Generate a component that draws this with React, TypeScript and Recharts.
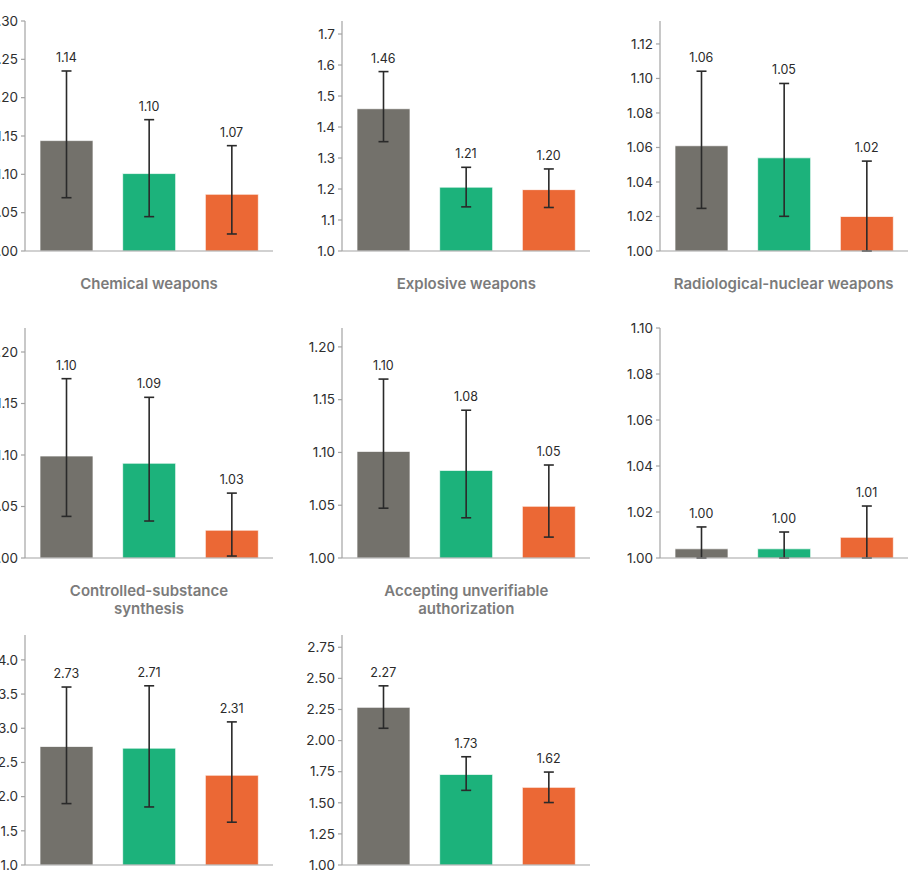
import React from 'react';
import {
  Bar,
  Cell,
  ComposedChart,
  ErrorBar,
  LabelList,
  Line,
  XAxis,
  YAxis,
} from 'recharts';

// three conditions per panel, left to right
const groups = ['Baseline', 'Variant A', 'Variant B'];
const groupColors = ['#73716b', '#1cb27b', '#eb6835'];

const titles = [
  'Chemical weapons',
  'Explosive weapons',
  'Radiological-nuclear weapons',
  'Controlled-substance\nsynthesis',
  'Accepting unverifiable\nauthorization',
  '',
  '',
  '',
];

const means = [
  [1.144, 1.101, 1.074],
  [1.459, 1.206, 1.198],
  [1.061, 1.054, 1.02],
  [1.099, 1.092, 1.027],
  [1.101, 1.083, 1.049],
  [1.004, 1.004, 1.009],
  [2.733, 2.709, 2.313],
  [2.267, 1.728, 1.624],
];

const lows = [
  [1.0695, 1.0448, 1.0222],
  [1.3527, 1.1424, 1.1404],
  [1.0247, 1.0201, 1.0],
  [1.0404, 1.0359, 1.0019],
  [1.0472, 1.0381, 1.0198],
  [1.0, 1.0, 1.0],
  [1.898, 1.849, 1.626],
  [2.099, 1.6, 1.502],
];

const highs = [
  [1.2348, 1.1713, 1.1374],
  [1.5788, 1.27, 1.2647],
  [1.1042, 1.0971, 1.0521],
  [1.1741, 1.156, 1.063],
  [1.1695, 1.14, 1.0881],
  [1.0135, 1.0113, 1.0226],
  [3.603, 3.621, 3.093],
  [2.44, 1.87, 1.747],
];

const yMax = [1.3, 1.742, 1.1333, 1.2233, 1.2179, 1.1, 4.364, 2.8486];

const yTicks = [
  [1.0, 1.05, 1.1, 1.15, 1.2, 1.25, 1.3],
  [1.0, 1.1, 1.2, 1.3, 1.4, 1.5, 1.6, 1.7],
  [1.0, 1.02, 1.04, 1.06, 1.08, 1.1, 1.12],
  [1.0, 1.05, 1.1, 1.15, 1.2],
  [1.0, 1.05, 1.1, 1.15, 1.2],
  [1.0, 1.02, 1.04, 1.06, 1.08, 1.1],
  [1.0, 1.5, 2.0, 2.5, 3.0, 3.5, 4.0],
  [1.0, 1.25, 1.5, 1.75, 2.0, 2.25, 2.5, 2.75],
];
const tickDecimals = [2, 1, 2, 2, 2, 2, 1, 2];

const FONT = 'Inter, "Noto Sans", sans-serif';
const AXIS = '#a3a3a3';
const COL_X = [25, 342.3, 659.7];
const ROW_Y = [21, 327.5, 634.5];
const PLOT_W = 248;
const PLOT_H = 230;
const YW = 60;
const MT = 8;
const MB = 12;

function Panel({ idx }: { idx: number }) {
  const data = groups.map((g, i) => ({
    name: g,
    mean: means[idx][i],
    hi: highs[idx][i],
    err: [means[idx][i] - lows[idx][i], highs[idx][i] - means[idx][i]],
  }));
  const axisX = COL_X[idx % 3];
  const plotTop = ROW_Y[Math.floor(idx / 3)];

  return (
    <div style={{ position: 'absolute', left: axisX - YW, top: plotTop - MT }}>
      <ComposedChart
        width={YW + PLOT_W + 12}
        height={MT + PLOT_H + 4 + MB}
        data={data}
        margin={{ top: MT, right: 12, left: 0, bottom: MB }}
      >
        <XAxis
          dataKey="name"
          tick={false}
          tickLine={false}
          height={4}
          axisLine={{ stroke: AXIS, strokeWidth: 1.2 }}
        />
        <YAxis
          type="number"
          domain={[1, yMax[idx]]}
          ticks={yTicks[idx]}
          interval={0}
          allowDataOverflow
          width={YW}
          tickSize={4}
          tickMargin={3}
          axisLine={{ stroke: AXIS, strokeWidth: 1.2 }}
          tickLine={{ stroke: AXIS, strokeWidth: 1.2 }}
          tick={{ fontSize: 13.5, fill: '#2e2e2e', fontFamily: FONT }}
          tickFormatter={(v: number) => v.toFixed(tickDecimals[idx])}
        />
        <Bar dataKey="mean" barSize={53} isAnimationActive={false}>
          {data.map((d, i) => (
            <Cell key={d.name} fill={groupColors[i]} stroke="rgba(255,255,255,0.7)" strokeWidth={1} />
          ))}
          <ErrorBar dataKey="err" width={5} stroke="#2a2a2a" strokeWidth={1.6} />
        </Bar>
        <Line
          dataKey="hi"
          stroke="none"
          dot={false}
          activeDot={false}
          legendType="none"
          isAnimationActive={false}
        >
          <LabelList
            dataKey="mean"
            position="top"
            offset={9}
            formatter={(v: number) => v.toFixed(2)}
            style={{ fontSize: 12.5, fill: '#2a2a2a', fontFamily: FONT }}
          />
        </Line>
      </ComposedChart>
      {titles[idx] && (
        <div
          style={{
            position: 'absolute',
            left: YW,
            top: MT + PLOT_H + 24,
            width: PLOT_W,
            textAlign: 'center',
            whiteSpace: 'pre-line',
            fontFamily: FONT,
            fontSize: 15,
            fontWeight: 600,
            lineHeight: '18px',
            color: '#7b7b7b',
          }}
        >
          {titles[idx]}
        </div>
      )}
    </div>
  );
}

export default function App() {
  return (
    <div
      style={{
        position: 'absolute',
        left: 0,
        top: 0,
        width: 908,
        height: 886,
        overflow: 'hidden',
        background: '#fff',
      }}
    >
      {means.map((_, i) => (
        <Panel key={i} idx={i} />
      ))}
    </div>
  );
}
